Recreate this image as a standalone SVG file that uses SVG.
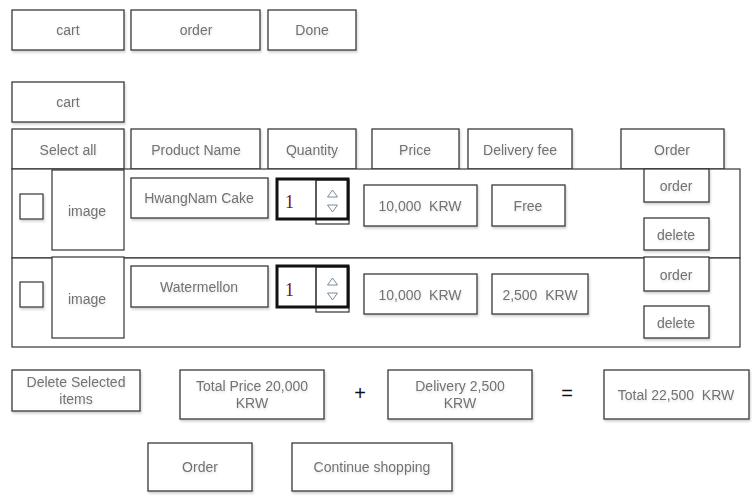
<svg xmlns="http://www.w3.org/2000/svg" width="752" height="498" viewBox="0 0 752 498">
  <defs>
    <filter id="shadow" x="-10%" y="-10%" width="125%" height="140%">
      <feDropShadow dx="1" dy="2" stdDeviation="1.2" flood-color="#000" flood-opacity="0.18"/>
    </filter>
    <filter id="tshadow" x="-5%" y="-20%" width="115%" height="160%">
      <feDropShadow dx="0.5" dy="1.5" stdDeviation="0.8" flood-color="#000" flood-opacity="0.12"/>
    </filter>
  </defs>
  <style>
    .box { fill: #fff; stroke: #3a3a3a; stroke-width: 1.3; }
    .sh { filter: url(#shadow); }
    .plain { fill: #fff; stroke: #333; stroke-width: 1.2; }
    .thick { fill: none; stroke: #111; stroke-width: 3; }
    .t { font-family: "Liberation Sans", Arial, sans-serif; font-size: 14px; fill: #727272; text-anchor: middle; white-space: pre; filter: url(#tshadow); }
    .op { font-family: "Liberation Sans", Arial, sans-serif; font-size: 20px; fill: #111; text-anchor: middle; }
    .num { font-family: "Liberation Serif", "Times New Roman", serif; font-size: 18px; fill: #7a1010; }
    .arrow { fill: none; stroke: #7a8a9a; stroke-width: 1; }
  </style>

  <!-- top tabs -->
  <g id="tab-cart"><rect class="box sh" x="12" y="10" width="112" height="40"/><text class="t" x="68" y="35">cart</text></g>
  <g id="tab-order"><rect class="box sh" x="131" y="10" width="129" height="40"/><text class="t" x="196" y="35">order</text></g>
  <g id="tab-done"><rect class="box sh" x="268" y="10" width="88" height="40"/><text class="t" x="312" y="35">Done</text></g>

  <g id="title-cart"><rect class="box sh" x="12" y="82" width="112" height="40"/><text class="t" x="68" y="107">cart</text></g>

  <!-- header row -->
  <g id="hdr-select"><rect class="box sh" x="12" y="129" width="112" height="40"/><text class="t" x="68" y="155">Select all</text></g>
  <g id="hdr-name"><rect class="box sh" x="131" y="129" width="129" height="40"/><text class="t" x="196" y="155">Product Name</text></g>
  <g id="hdr-qty"><rect class="box sh" x="268" y="129" width="88" height="40"/><text class="t" x="312" y="155">Quantity</text></g>
  <g id="hdr-price"><rect class="box sh" x="372" y="129" width="87" height="40"/><text class="t" x="415" y="155">Price</text></g>
  <g id="hdr-fee"><rect class="box sh" x="468" y="129" width="104" height="40"/><text class="t" x="520" y="155">Delivery fee</text></g>
  <g id="hdr-order"><rect class="box sh" x="621" y="129" width="103" height="40"/><text class="t" x="672" y="155">Order</text></g>

  <!-- item row 1 -->
  <g id="row1">
    <rect class="plain" x="12" y="169" width="728" height="89"/>
    <rect class="plain sh" x="20" y="194" width="23" height="25"/>
    <rect class="plain" x="52" y="170" width="72" height="80"/>
    <text class="t" x="87" y="216">image</text>
    <rect class="box sh" x="131" y="178" width="137" height="40"/>
    <text class="t" x="199" y="203">HwangNam Cake</text>
    <rect class="plain" x="316" y="180" width="33" height="44"/>
    <rect class="thick" x="277" y="179" width="71" height="40"/>
    <line x1="316" y1="180" x2="316" y2="218" stroke="#333" stroke-width="1"/>
    <text class="num" x="285" y="208">1</text>
    <path class="arrow" d="M327.5 197 L332.5 190 L337.5 197 Z"/>
    <path class="arrow" d="M327.5 205 L332.5 212 L337.5 205 Z"/>
    <rect class="box sh" x="364" y="185" width="113" height="41"/>
    <text class="t" x="420" y="211">10,000  KRW</text>
    <rect class="box sh" x="492" y="185" width="73" height="41"/>
    <text class="t" x="528" y="211">Free</text>
    <rect class="box sh" x="644" y="169" width="65" height="33"/>
    <text class="t" x="676" y="191">order</text>
    <rect class="box sh" x="644" y="218" width="65" height="32"/>
    <text class="t" x="676" y="240">delete</text>
  </g>

  <!-- item row 2 -->
  <g id="row2">
    <rect class="plain" x="12" y="258" width="728" height="89"/>
    <rect class="plain sh" x="20" y="282" width="23" height="25"/>
    <rect class="plain" x="52" y="257" width="72" height="81"/>
    <text class="t" x="87" y="304">image</text>
    <rect class="box sh" x="131" y="266" width="137" height="41"/>
    <text class="t" x="199" y="292">Watermellon</text>
    <rect class="plain" x="316" y="267" width="33" height="45"/>
    <rect class="thick" x="277" y="266" width="71" height="41"/>
    <line x1="316" y1="267" x2="316" y2="306" stroke="#333" stroke-width="1"/>
    <text class="num" x="285" y="296">1</text>
    <path class="arrow" d="M327.5 285 L332.5 278 L337.5 285 Z"/>
    <path class="arrow" d="M327.5 293 L332.5 300 L337.5 293 Z"/>
    <rect class="box sh" x="364" y="274" width="113" height="40"/>
    <text class="t" x="420" y="300">10,000  KRW</text>
    <rect class="box sh" x="492" y="274" width="96" height="40"/>
    <text class="t" x="540" y="300">2,500  KRW</text>
    <rect class="box sh" x="644" y="257" width="65" height="34"/>
    <text class="t" x="676" y="280">order</text>
    <rect class="box sh" x="644" y="306" width="65" height="32"/>
    <text class="t" x="676" y="328">delete</text>
  </g>

  <!-- summary -->
  <g id="btn-delete-selected"><rect class="box sh" x="12" y="370" width="128" height="41"/><text class="t" x="76" y="387">Delete Selected</text><text class="t" x="76" y="404">items</text></g>
  <g id="total-price"><rect class="box sh" x="180" y="370" width="144" height="49"/><text class="t" x="252" y="391">Total Price 20,000</text><text class="t" x="252" y="408">KRW</text></g>
  <text class="op" x="360" y="400">+</text>
  <g id="delivery-total"><rect class="box sh" x="388" y="370" width="144" height="49"/><text class="t" x="460" y="391">Delivery 2,500</text><text class="t" x="460" y="408">KRW</text></g>
  <text class="op" x="567" y="400">=</text>
  <g id="grand-total"><rect class="box sh" x="604" y="370" width="145" height="49"/><text class="t" x="676" y="400">Total 22,500  KRW</text></g>

  <g id="btn-order"><rect class="box sh" x="148" y="443" width="104" height="48"/><text class="t" x="200" y="472">Order</text></g>
  <g id="btn-continue"><rect class="box sh" x="292" y="443" width="160" height="48"/><text class="t" x="372" y="472">Continue shopping</text></g>
</svg>
